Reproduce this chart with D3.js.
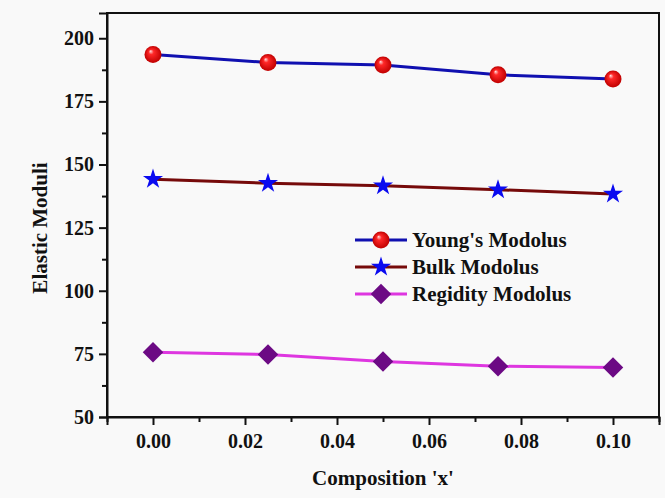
<!DOCTYPE html>
<html>
<head>
<meta charset="utf-8">
<script src="https://cdn.jsdelivr.net/npm/d3@7"></script>
<style>
  body { margin: 0; background: #f9f9f9; }
  svg { display: block; }
  text { font-family: "Liberation Serif", "Times New Roman", serif; font-weight: bold; fill: #111; }
</style>
</head>
<body>
<div id="chart"></div>
<script>
// data
var composition = [0.000, 0.025, 0.050, 0.075, 0.100];
var youngs = [193.6, 190.4, 189.4, 185.5, 183.9];
var bulk = [144.2, 142.6, 141.6, 140.0, 138.3];
var regidity = [75.6, 74.8, 72.0, 70.1, 69.6];
var seriesNames = ["Young's Modolus", "Bulk Modolus", "Regidity Modolus"];
var xTicks = [0.00, 0.02, 0.04, 0.06, 0.08, 0.10];
var yTicks = [50, 75, 100, 125, 150, 175, 200];

var width = 665, height = 498;
var margin = {top: 13, right: 6, bottom: 81, left: 107};

var svg = d3.select("#chart").append("svg")
  .attr("width", width)
  .attr("height", height);

var x = d3.scaleLinear().domain([-0.01, 0.11]).range([margin.left, width - margin.right]);
var y = d3.scaleLinear().domain([50, 210]).range([height - margin.bottom, margin.top]);

// sphere look for the red balls
var defs = svg.append("defs");
var grad = defs.append("radialGradient")
  .attr("id", "ball")
  .attr("cx", "50%").attr("cy", "50%").attr("r", "50%")
  .attr("fx", "35%").attr("fy", "30%");
grad.append("stop").attr("offset", "0%").attr("stop-color", "#ffe0e0");
grad.append("stop").attr("offset", "30%").attr("stop-color", "#ff2828");
grad.append("stop").attr("offset", "100%").attr("stop-color", "#c00000");

// frame
svg.append("rect")
  .attr("x", x.range()[0]).attr("y", y.range()[1])
  .attr("width", x.range()[1] - x.range()[0])
  .attr("height", y.range()[0] - y.range()[1])
  .attr("fill", "none").attr("stroke", "#111").attr("stroke-width", 2);

// minor ticks
var xMinor = d3.range(-0.01, 0.111, 0.02);
var yMinor = d3.range(62.5, 210, 25);

var xAxis = svg.append("g")
  .attr("transform", "translate(0," + y.range()[0] + ")")
  .call(d3.axisBottom(x).tickValues(xTicks).tickFormat(d3.format(".2f")).tickSize(8).tickPadding(9));
svg.append("g")
  .attr("transform", "translate(0," + y.range()[0] + ")")
  .call(d3.axisBottom(x).tickValues(xMinor).tickFormat("").tickSize(5))
  .call(g => g.select(".domain").remove());

var yAxis = svg.append("g")
  .attr("transform", "translate(" + x.range()[0] + ",0)")
  .call(d3.axisLeft(y).tickValues(yTicks).tickSize(8).tickPadding(5));
svg.append("g")
  .attr("transform", "translate(" + x.range()[0] + ",0)")
  .call(d3.axisLeft(y).tickValues(yMinor).tickFormat("").tickSize(5))
  .call(g => g.select(".domain").remove());

svg.selectAll(".domain").attr("stroke", "#111").attr("stroke-width", 2);
svg.selectAll(".tick line").attr("stroke", "#111").attr("stroke-width", 2);
svg.selectAll(".tick text")
  .style("font-family", '"Liberation Serif", "Times New Roman", serif')
  .style("font-weight", "bold")
  .style("font-size", "20px")
  .attr("fill", "#111");
xAxis.selectAll(".tick text").attr("dy", "0.71em");

// axis titles
svg.append("text")
  .attr("x", (x.range()[0] + x.range()[1]) / 2)
  .attr("y", 485)
  .attr("text-anchor", "middle")
  .style("font-size", "21px")
  .text("Composition 'x'");

svg.append("text")
  .attr("transform", "translate(47,228) rotate(-90)")
  .attr("text-anchor", "middle")
  .style("font-size", "21px")
  .text("Elastic Moduli");

var series = [
  {name: seriesNames[0], values: youngs, line: "#1010b0", shape: "ball"},
  {name: seriesNames[1], values: bulk, line: "#760a0a", shape: "star"},
  {name: seriesNames[2], values: regidity, line: "#de36e0", shape: "diamond"}
];

var line = d3.line()
  .x(function(d, i) { return x(composition[i]); })
  .y(function(d) { return y(d); });

function drawMarker(g, shape) {
  if (shape == "ball") {
    g.append("circle").attr("r", 8.5).attr("fill", "url(#ball)");
  } else if (shape == "star") {
    g.append("path")
      .attr("d", d3.symbol().type(d3.symbolStar).size(125)())
      .attr("fill", "#0a0af0");
  } else {
    g.append("path")
      .attr("d", d3.symbol().type(d3.symbolSquare).size(210)())
      .attr("transform", "rotate(45)")
      .attr("fill", "#6c0a84");
  }
}

series.forEach(function(s) {
  svg.append("path")
    .datum(s.values)
    .attr("d", line)
    .attr("fill", "none")
    .attr("stroke", s.line)
    .attr("stroke-width", 3);

  s.values.forEach(function(v, i) {
    var g = svg.append("g")
      .attr("transform", "translate(" + x(composition[i]) + "," + y(v) + ")");
    drawMarker(g, s.shape);
  });
});

// legend
var legend = svg.append("g").attr("transform", "translate(355,240)");
series.forEach(function(s, i) {
  var row = legend.append("g").attr("transform", "translate(0," + i * 27 + ")");
  row.append("line")
    .attr("x1", 0).attr("x2", 52)
    .attr("stroke", s.line).attr("stroke-width", 3);
  drawMarker(row.append("g").attr("transform", "translate(26,0)"), s.shape);
  row.append("text")
    .attr("x", 57)
    .attr("dy", "0.35em")
    .style("font-size", "21px")
    .text(s.name);
});
</script>
</body>
</html>
